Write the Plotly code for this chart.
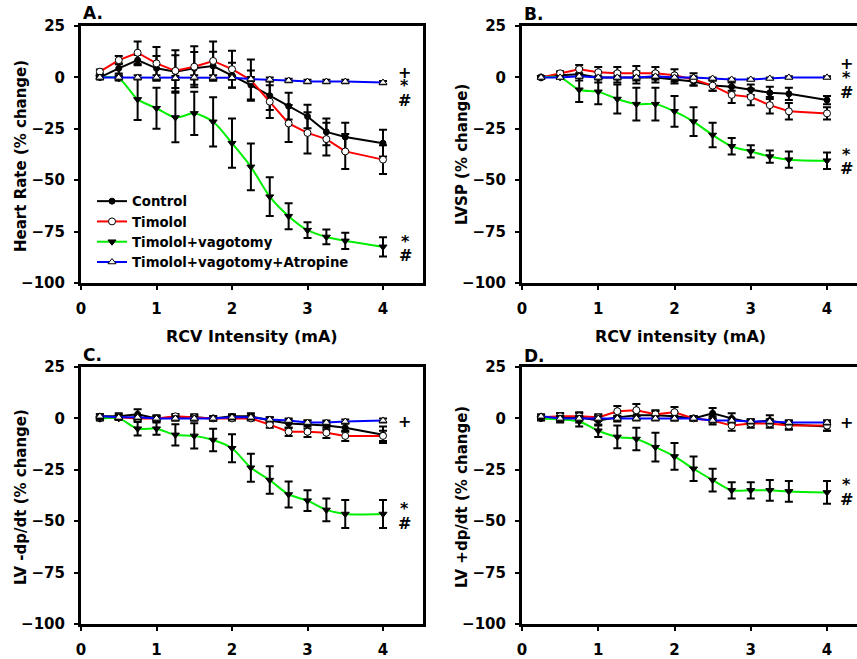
import plotly.graph_objects as go

W, H = 857, 659

X = [0.25, 0.5, 0.75, 1.0, 1.25, 1.5, 1.75, 2.0, 2.25, 2.5, 2.75, 3.0, 3.25, 3.5, 4.0]
SERIES = ["Control", "Timolol", "Timolol+vagotomy", "Timolol+vagotomy+Atropine"]

# Panel A: Heart rate
A_ctrl = [0, 4.4, 8.4, 4.4, 2.8, 4.4, 5.5, 1.1, -3.7, -8.9, -14, -19, -26.5, -29, -32]
A_ctrl_err = [0.5, 2.5, 2.5, 6, 8, 8, 7, 6, 7, 7, 6.5, 5.7, 6.5, 7, 6.5]
A_tim = [2.8, 8.4, 12, 6.8, 3.2, 5.2, 8, 4, -1.3, -11.8, -22.4, -27, -30, -36, -40]
A_tim_err = [1, 2, 5.5, 8, 10, 10, 9.5, 9, 10, 8, 9, 10, 8, 8.5, 7]
A_vag = [0, -0.5, -10.7, -15, -19.5, -17.5, -21.6, -32, -43.5, -58, -67.5, -74.3, -77.6, -79.5, -82.4]
A_vag_err = [0.5, 1, 10, 10, 12, 10.5, 12, 12, 11.4, 9.4, 6.3, 3.8, 3.6, 4, 4.7]
A_atr = [0, 0, 0, 0, -0.3, 0, 0, -0.2, -0.8, -1, -1.5, -2, -2, -2, -2.5]
A_atr_err = [1, 1, 1, 1, 1, 1, 1, 1, 1, 1, 0.8, 0.8, 0.8, 0.8, 0.8]

# Panel B: LVSP
B_ctrl = [0, 1, 1.5, 0, 0, 0, 0, -1, -2, -4, -4.5, -6, -7.5, -8, -11]
B_ctrl_err = [0.5, 1.5, 3, 2.5, 2.5, 3, 2.5, 2, 2, 2.5, 2, 2.5, 3, 3, 2]
B_tim = [0, 2, 4, 2.5, 2, 2, 2, 1, -1, -4, -8.5, -9.5, -13.5, -16.5, -17.5]
B_tim_err = [0.5, 1, 2, 2.5, 3, 3.5, 3, 3, 3, 2.5, 4, 4, 4, 4, 3]
B_vag = [0, 0, -6, -7, -10.5, -13, -13, -16.5, -21.5, -28, -33.5, -36, -38.5, -40, -40.5]
B_vag_err = [0.5, 0.5, 6, 6, 7, 8, 8, 7.5, 7, 6, 4, 3, 3, 4, 4]
B_atr = [0, 0, 0.5, 0, 0, 0, 0.5, 0, 0, -0.5, -1, -1, -0.5, 0, 0]
B_atr_err = [0.5] * 15

# Panel C: LV -dp/dt
C_ctrl = [1, 1, 2, 0, 0.5, 0.5, 0, 1, 1, -1, -2.5, -3, -3.5, -4.5, -8]
C_ctrl_err = [1, 1.5, 2.5, 1.5, 1.5, 1.5, 1, 1, 1.5, 1.5, 2, 2, 2, 2, 4]
C_tim = [0, 0.5, 0, 0, 1, 0.5, 0, 0, 0, -3, -6.5, -6.5, -7, -8.5, -8.5]
C_tim_err = [1, 1, 1, 1, 1, 1, 1, 1, 1, 1.5, 2, 2.5, 2.5, 2.5, 2.5]
C_vag = [0, 0, -5, -5, -8, -8.5, -10.5, -14.5, -24, -30, -37, -40, -44.5, -46.5, -46.5]
C_vag_err = [0.5, 0.5, 3.3, 3, 5.2, 6.2, 5.5, 6.8, 6.8, 6.7, 6.3, 5, 5.5, 6.8, 6.8]
C_atr = [1, 0.5, 0.5, 0, 0, 0, 0, 0.5, 0.5, -0.5, -1, -2, -2, -1.5, -1]
C_atr_err = [1] * 15

# Panel D: LV +dp/dt
D_ctrl = [0, 0.5, 0.5, -1, 0.5, 1.5, 1.5, 1, 0, 2.5, 0, -2, -1, -3, -4]
D_ctrl_err = [1, 2, 2.5, 2.5, 2, 2, 2, 2, 1, 2.5, 2.5, 1.5, 2.5, 2, 2]
D_tim = [0.5, 1, 1, 0.5, 3.5, 4, 2, 3, 0, -1, -3.5, -2.5, -2.5, -3.5, -3.5]
D_tim_err = [1, 1.5, 1.5, 1.5, 2.5, 3, 2, 2.5, 1, 2, 2.5, 2, 2, 2, 2.5]
D_vag = [0, -0.5, -1.5, -6, -9, -10, -14, -18.5, -24.5, -30, -35, -35, -35, -35.5, -36]
D_vag_err = [0.5, 1.5, 2.5, 3, 5.5, 5.5, 7, 6.5, 6, 5.5, 4, 4, 5, 5, 5.5]
D_atr = [1, 0, 0, 0, 0, 0, 0, 0, 0, -1, -1, -1.5, -1.5, -2, -2]
D_atr_err = [1] * 15

Y_TICKS = [25, 0, -25, -50, -75, -100]
X_TICKS = [0, 1, 2, 3, 4]

FONT = "DejaVu Sans"

def px(x):
    return x / W

def py(y):
    return 1 - y / H

styles = [
    dict(color="black", marker=dict(symbol="circle", size=6, color="black",
                                    line=dict(color="black", width=1)), shape="linear"),
    dict(color="#ff0000", marker=dict(symbol="circle", size=7, color="white",
                                      line=dict(color="black", width=1)), shape="linear"),
    dict(color="#00ee00", marker=dict(symbol="triangle-down", size=7, color="black",
                                      line=dict(color="black", width=1)), shape="spline"),
    dict(color="#0000ff", marker=dict(symbol="triangle-up", size=7, color="white",
                                      line=dict(color="black", width=1)), shape="linear"),
]

panels = [
    ("x", "y", [(A_ctrl, A_ctrl_err), (A_tim, A_tim_err), (A_vag, A_vag_err), (A_atr, A_atr_err)]),
    ("x2", "y2", [(B_ctrl, B_ctrl_err), (B_tim, B_tim_err), (B_vag, B_vag_err), (B_atr, B_atr_err)]),
    ("x3", "y3", [(C_ctrl, C_ctrl_err), (C_tim, C_tim_err), (C_vag, C_vag_err), (C_atr, C_atr_err)]),
    ("x4", "y4", [(D_ctrl, D_ctrl_err), (D_tim, D_tim_err), (D_vag, D_vag_err), (D_atr, D_atr_err)]),
]

fig = go.Figure()
for pi, (xa, ya, data) in enumerate(panels):
    for si, (vals, errs) in enumerate(data):
        st = styles[si]
        fig.add_trace(go.Scatter(
            x=X, y=vals, xaxis=xa, yaxis=ya, mode="lines+markers",
            name=SERIES[si], showlegend=(pi == 0),
            line=dict(color=st["color"], width=2, shape=st["shape"], smoothing=0.8),
            marker=st["marker"],
            error_y=dict(type="data", array=errs, visible=True, color="black",
                         thickness=2, width=4),
            cliponaxis=False,
        ))

left_x = [81, 423]
right_x = [522, W]
top_y = [26, 283]
bot_y = [367, 624]
UNIT_L = 75.5
UNIT_R = 76.25

def xax(dom_px, unit, anchor):
    return dict(domain=[px(dom_px[0]), px(dom_px[1])], range=[0, (dom_px[1] - dom_px[0]) / unit],
                anchor=anchor,
                tickvals=X_TICKS, ticks="outside", ticklen=4, tickwidth=2, tickcolor="black",
                showline=True, linewidth=3, linecolor="black", mirror=True,
                showgrid=False, zeroline=False, automargin=False,
                tickfont=dict(family=FONT, size=15, color="black", weight="bold"),
                ticklabelstandoff=6)

def yax(dom_px, anchor, mirror):
    return dict(domain=[py(dom_px[1]), py(dom_px[0])], range=[-100, 25], anchor=anchor,
                tickvals=Y_TICKS, ticks="outside", ticklen=4, tickwidth=2, tickcolor="black",
                showline=True, linewidth=3, linecolor="black", mirror=mirror,
                showgrid=False, zeroline=False, automargin=False,
                tickfont=dict(family=FONT, size=15, color="black", weight="bold"),
                ticklabelstandoff=6)

fig.update_layout(
    width=W, height=H, margin=dict(l=0, r=0, t=0, b=0, autoexpand=False),
    paper_bgcolor="white", plot_bgcolor="white",
    xaxis=xax(left_x, UNIT_L, "y"),
    yaxis=yax(top_y, "x", True),
    xaxis2=xax(right_x, UNIT_R, "y2"),
    yaxis2=yax(top_y, "x2", False),
    xaxis3=xax(left_x, UNIT_L, "y3"),
    yaxis3=yax(bot_y, "x3", True),
    xaxis4=xax(right_x, UNIT_R, "y4"),
    yaxis4=yax(bot_y, "x4", False),
    legend=dict(x=px(92), y=py(186), xanchor="left", yanchor="top",
                bgcolor="rgba(0,0,0,0)", borderwidth=0,
                font=dict(family=FONT, size=13.3, color="black", weight="bold"),
                tracegroupgap=0, itemwidth=30),
    showlegend=True,
)

ann = []
def add_text(text, x, y, size=15, angle=0, xanchor="center"):
    ann.append(dict(text=text, x=px(x), y=py(y), xref="paper", yref="paper",
                    showarrow=False, textangle=angle, xanchor=xanchor, yanchor="middle",
                    font=dict(family=FONT, size=size, color="black", weight="bold")))

# panel letters
add_text("A.", 81, 13, size=17, xanchor="left")
add_text("B.", 522, 14, size=17, xanchor="left")
add_text("C.", 81, 355, size=17, xanchor="left")
add_text("D.", 522, 356, size=17, xanchor="left")

# axis titles
add_text("RCV Intensity (mA)", 252, 336, size=16)
add_text("RCV intensity (mA)", 680, 336, size=16)
add_text("Heart Rate (% change)", 21, 156, size=15, angle=-90)
add_text("LVSP (% change)", 462, 154, size=15, angle=-90)
add_text("LV -dp/dt (% change)", 21, 497, size=15, angle=-90)
add_text("LV +dp/dt (% change)", 462, 497, size=15, angle=-90)

# significance marks
for (t, x, y) in [("+", 404, 72), ("*", 404, 86), ("#", 404, 100),
                  ("*", 405, 241), ("#", 405, 255),
                  ("+", 846, 63), ("*", 846, 78), ("#", 846, 92),
                  ("*", 846, 155), ("#", 846, 169),
                  ("+", 404, 422), ("*", 404, 508), ("#", 404, 523),
                  ("+", 846, 423), ("*", 846, 484), ("#", 846, 499)]:
    add_text(t, x, y, size=16)

fig.update_layout(annotations=ann)
fig.write_html(
    "out.html",
    config={"displayModeBar": False},
    post_script="document.body.style.margin='0';document.body.style.overflow='hidden';",
)
